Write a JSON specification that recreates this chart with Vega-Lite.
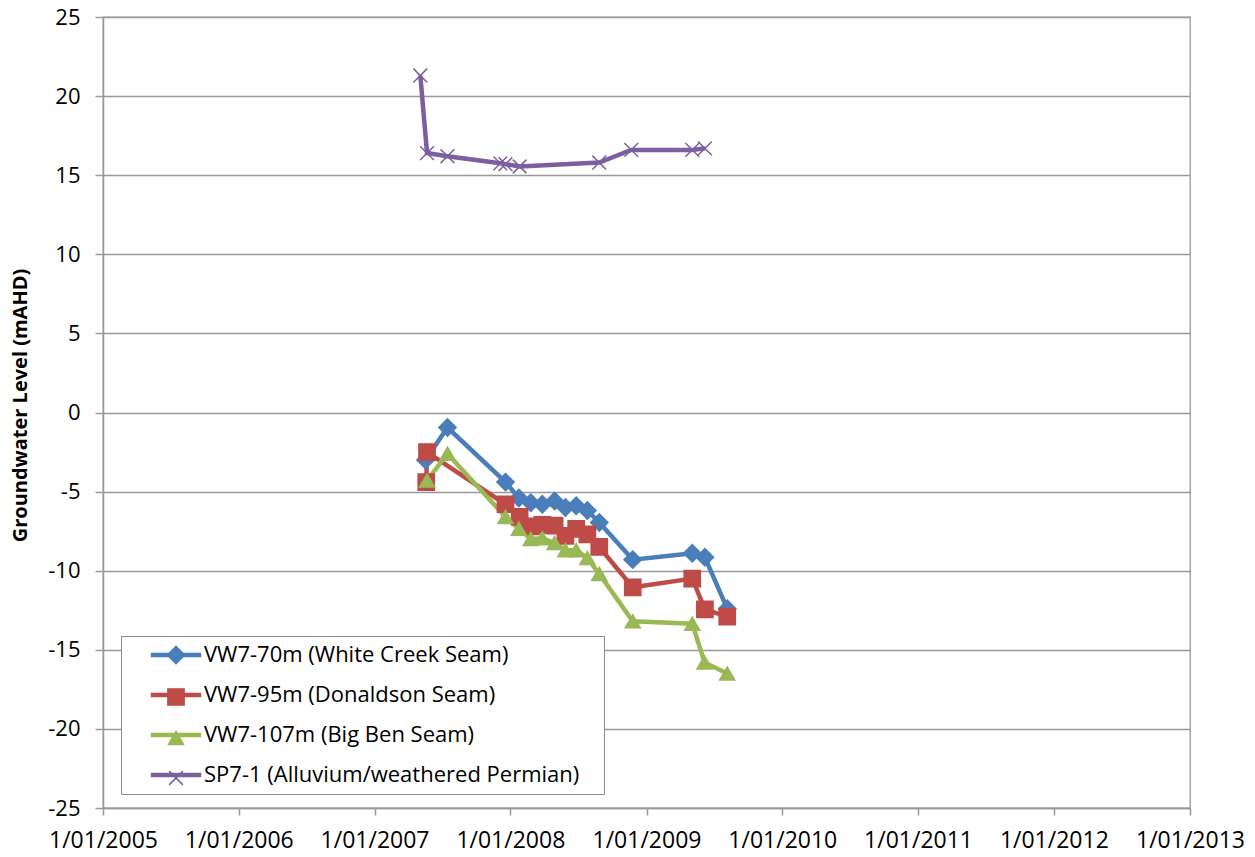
{
  "$schema": "https://vega.github.io/schema/vega-lite/v6.json",
  "width": 1087,
  "height": 791,
  "autosize": "none",
  "padding": {"left": 103, "top": 17, "right": 65, "bottom": 49},
  "background": "white",
  "config": {
    "font": "Open Sans",
    "view": {"stroke": "#999999", "strokeWidth": 1.3},
    "axis": {"labelFont": "Open Sans", "labelColor": "#000000", "labelFontSize": 22, "domainColor": "#999999", "tickColor": "#999999", "gridColor": "#999999", "domainWidth": 1.5, "tickWidth": 1.5}
  },
  "data": {"values": [
    {"date": "2007-05-18", "series": "VW7-70m (White Creek Seam)", "marker": "diamond", "value": -3.0},
    {"date": "2007-07-16", "series": "VW7-70m (White Creek Seam)", "marker": "diamond", "value": -0.95},
    {"date": "2007-12-19", "series": "VW7-70m (White Creek Seam)", "marker": "diamond", "value": -4.4},
    {"date": "2008-01-24", "series": "VW7-70m (White Creek Seam)", "marker": "diamond", "value": -5.4},
    {"date": "2008-02-25", "series": "VW7-70m (White Creek Seam)", "marker": "diamond", "value": -5.7},
    {"date": "2008-03-27", "series": "VW7-70m (White Creek Seam)", "marker": "diamond", "value": -5.8},
    {"date": "2008-04-29", "series": "VW7-70m (White Creek Seam)", "marker": "diamond", "value": -5.6},
    {"date": "2008-05-28", "series": "VW7-70m (White Creek Seam)", "marker": "diamond", "value": -6.0},
    {"date": "2008-06-26", "series": "VW7-70m (White Creek Seam)", "marker": "diamond", "value": -5.9},
    {"date": "2008-07-26", "series": "VW7-70m (White Creek Seam)", "marker": "diamond", "value": -6.2},
    {"date": "2008-08-27", "series": "VW7-70m (White Creek Seam)", "marker": "diamond", "value": -6.95},
    {"date": "2008-11-25", "series": "VW7-70m (White Creek Seam)", "marker": "diamond", "value": -9.3},
    {"date": "2009-05-04", "series": "VW7-70m (White Creek Seam)", "marker": "diamond", "value": -8.9},
    {"date": "2009-06-07", "series": "VW7-70m (White Creek Seam)", "marker": "diamond", "value": -9.15},
    {"date": "2009-08-06", "series": "VW7-70m (White Creek Seam)", "marker": "diamond", "value": -12.4},

    {"date": "2007-05-20", "series": "VW7-95m (Donaldson Seam)", "marker": "square", "value": -4.4},
    {"date": "2007-05-22", "series": "VW7-95m (Donaldson Seam)", "marker": "square", "value": -2.5},
    {"date": "2007-12-19", "series": "VW7-95m (Donaldson Seam)", "marker": "square", "value": -5.8},
    {"date": "2008-01-26", "series": "VW7-95m (Donaldson Seam)", "marker": "square", "value": -6.6},
    {"date": "2008-02-25", "series": "VW7-95m (Donaldson Seam)", "marker": "square", "value": -7.2},
    {"date": "2008-03-27", "series": "VW7-95m (Donaldson Seam)", "marker": "square", "value": -7.1},
    {"date": "2008-04-29", "series": "VW7-95m (Donaldson Seam)", "marker": "square", "value": -7.15},
    {"date": "2008-05-28", "series": "VW7-95m (Donaldson Seam)", "marker": "square", "value": -7.8},
    {"date": "2008-06-26", "series": "VW7-95m (Donaldson Seam)", "marker": "square", "value": -7.35},
    {"date": "2008-07-26", "series": "VW7-95m (Donaldson Seam)", "marker": "square", "value": -7.7},
    {"date": "2008-08-27", "series": "VW7-95m (Donaldson Seam)", "marker": "square", "value": -8.5},
    {"date": "2008-11-25", "series": "VW7-95m (Donaldson Seam)", "marker": "square", "value": -11.05},
    {"date": "2009-05-04", "series": "VW7-95m (Donaldson Seam)", "marker": "square", "value": -10.5},
    {"date": "2009-06-07", "series": "VW7-95m (Donaldson Seam)", "marker": "square", "value": -12.45},
    {"date": "2009-08-06", "series": "VW7-95m (Donaldson Seam)", "marker": "square", "value": -12.9},

    {"date": "2007-05-22", "series": "VW7-107m (Big Ben Seam)", "marker": "triangle", "value": -4.3},
    {"date": "2007-07-16", "series": "VW7-107m (Big Ben Seam)", "marker": "triangle", "value": -2.6},
    {"date": "2007-12-19", "series": "VW7-107m (Big Ben Seam)", "marker": "triangle", "value": -6.6},
    {"date": "2008-01-24", "series": "VW7-107m (Big Ben Seam)", "marker": "triangle", "value": -7.35},
    {"date": "2008-02-25", "series": "VW7-107m (Big Ben Seam)", "marker": "triangle", "value": -8.0},
    {"date": "2008-03-27", "series": "VW7-107m (Big Ben Seam)", "marker": "triangle", "value": -7.95},
    {"date": "2008-04-29", "series": "VW7-107m (Big Ben Seam)", "marker": "triangle", "value": -8.25},
    {"date": "2008-05-28", "series": "VW7-107m (Big Ben Seam)", "marker": "triangle", "value": -8.7},
    {"date": "2008-06-26", "series": "VW7-107m (Big Ben Seam)", "marker": "triangle", "value": -8.7},
    {"date": "2008-07-26", "series": "VW7-107m (Big Ben Seam)", "marker": "triangle", "value": -9.2},
    {"date": "2008-08-27", "series": "VW7-107m (Big Ben Seam)", "marker": "triangle", "value": -10.2},
    {"date": "2008-11-25", "series": "VW7-107m (Big Ben Seam)", "marker": "triangle", "value": -13.2},
    {"date": "2009-05-04", "series": "VW7-107m (Big Ben Seam)", "marker": "triangle", "value": -13.35},
    {"date": "2009-06-06", "series": "VW7-107m (Big Ben Seam)", "marker": "triangle", "value": -15.8},
    {"date": "2009-08-06", "series": "VW7-107m (Big Ben Seam)", "marker": "triangle", "value": -16.5},

    {"date": "2007-05-04", "series": "SP7-1 (Alluvium/weathered Permian)", "marker": "cross", "value": 21.3},
    {"date": "2007-05-22", "series": "SP7-1 (Alluvium/weathered Permian)", "marker": "cross", "value": 16.4},
    {"date": "2007-07-16", "series": "SP7-1 (Alluvium/weathered Permian)", "marker": "cross", "value": 16.2},
    {"date": "2007-12-05", "series": "SP7-1 (Alluvium/weathered Permian)", "marker": "cross", "value": 15.75},
    {"date": "2007-12-19", "series": "SP7-1 (Alluvium/weathered Permian)", "marker": "cross", "value": 15.7},
    {"date": "2008-01-26", "series": "SP7-1 (Alluvium/weathered Permian)", "marker": "cross", "value": 15.55},
    {"date": "2008-08-27", "series": "SP7-1 (Alluvium/weathered Permian)", "marker": "cross", "value": 15.8},
    {"date": "2008-11-21", "series": "SP7-1 (Alluvium/weathered Permian)", "marker": "cross", "value": 16.6},
    {"date": "2009-05-04", "series": "SP7-1 (Alluvium/weathered Permian)", "marker": "cross", "value": 16.6},
    {"date": "2009-06-07", "series": "SP7-1 (Alluvium/weathered Permian)", "marker": "cross", "value": 16.7}
  ]},
  "encoding": {
    "x": {
      "field": "date", "type": "temporal",
      "scale": {"type": "utc", "domain": [{"year": 2005, "month": 1, "date": 1, "utc": true}, {"year": 2013, "month": 1, "date": 1, "utc": true}], "nice": false},
      "axis": {"title": null, "grid": false, "format": "%-d/%m/%Y",
        "values": [
          {"year": 2005, "month": 1, "date": 1, "utc": true},
          {"year": 2006, "month": 1, "date": 1, "utc": true},
          {"year": 2007, "month": 1, "date": 1, "utc": true},
          {"year": 2008, "month": 1, "date": 1, "utc": true},
          {"year": 2009, "month": 1, "date": 1, "utc": true},
          {"year": 2010, "month": 1, "date": 1, "utc": true},
          {"year": 2011, "month": 1, "date": 1, "utc": true},
          {"year": 2012, "month": 1, "date": 1, "utc": true},
          {"year": 2013, "month": 1, "date": 1, "utc": true}
        ],
        "labelFontSize": 23, "tickSize": 7, "labelPadding": 14, "labelOverlap": false, "labelFlush": false, "labelBound": false}
    },
    "y": {
      "field": "value", "type": "quantitative",
      "scale": {"domain": [-25, 25], "nice": false, "zero": false},
      "axis": {"title": "Groundwater Level (mAHD)", "values": [-25, -20, -15, -10, -5, 0, 5, 10, 15, 20, 25], "labelExpr": "'' + datum.value", "grid": true, "gridWidth": 1.3, "tickSize": 8, "labelPadding": 15, "titleFont": "Open Sans", "titleFontSize": 20, "titleFontWeight": "bold", "titleColor": "#000000", "titleX": -83, "titleY": 388, "titleAngle": -90, "titleAlign": "center", "titleBaseline": "middle"}
    }
  },
  "layer": [
    {
      "mark": {"type": "line", "strokeWidth": 4.5},
      "encoding": {
        "color": {
          "field": "series", "type": "nominal",
          "scale": {"domain": ["VW7-70m (White Creek Seam)", "VW7-95m (Donaldson Seam)", "VW7-107m (Big Ben Seam)", "SP7-1 (Alluvium/weathered Permian)"], "range": ["#4A7EBB", "#BE4B48", "#98B954", "#7D5FA0"]},
          "legend": {"title": "\u00a0", "titleOrient": "right", "titlePadding": 17, "titleFontSize": 4, "orient": "none", "legendX": 18, "legendY": 619, "zindex": 0, "padding": 8, "strokeColor": "#8c8c8c", "fillColor": "white", "symbolType": "M-3.6,0L3.6,0", "symbolSize": 196, "symbolStrokeWidth": 4.5, "symbolOffset": 36, "labelOffset": 17, "labelFont": "Open Sans", "labelFontSize": 22, "labelColor": "#000000", "labelLimit": 600, "rowPadding": 18}
        }
      }
    },
    {
      "mark": {"type": "point", "filled": true, "opacity": 1, "strokeWidth": 1.5},
      "encoding": {
        "shape": {
          "field": "marker", "type": "nominal",
          "scale": {"domain": ["diamond", "square", "triangle", "cross"], "range": ["diamond", "square", "triangle-up", "M-1,-1L1,1M-1,1L1,-1"]},
          "legend": {"title": null, "orient": "none", "legendX": 18, "legendY": 619, "zindex": 1, "padding": 8, "symbolOffset": 36, "labelOffset": 17, "labelFont": "Open Sans", "labelFontSize": 22, "labelColor": "transparent", "labelExpr": "' '", "rowPadding": 18, "symbolStrokeWidth": 1.5}
        },
        "fill": {
          "field": "marker", "type": "nominal",
          "scale": {"domain": ["diamond", "square", "triangle", "cross"], "range": ["#4A7EBB", "#BE4B48", "#98B954", "transparent"]}
        },
        "stroke": {
          "field": "marker", "type": "nominal",
          "scale": {"domain": ["diamond", "square", "triangle", "cross"], "range": ["#4A7EBB", "#BE4B48", "#98B954", "#7D5FA0"]}
        },
        "size": {
          "field": "marker", "type": "nominal",
          "scale": {"domain": ["diamond", "square", "triangle", "cross"], "range": [300, 190, 190, 190]}
        }
      }
    }
  ]
}
